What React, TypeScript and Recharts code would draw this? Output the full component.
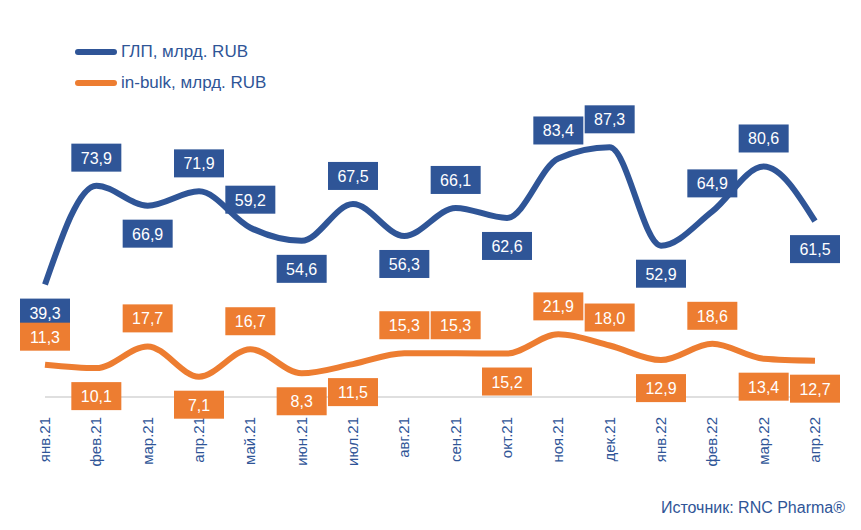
import React from "react";
import { LineChart, Line, XAxis, YAxis, LabelList } from "recharts";

const months = [
  "янв.21", "фев.21", "мар.21", "апр.21", "май.21", "июн.21", "июл.21", "авг.21",
  "сен.21", "окт.21", "ноя.21", "дек.21", "янв.22", "фев.22", "мар.22", "апр.22",
];
const glp = [39.3, 73.9, 66.9, 71.9, 59.2, 54.6, 67.5, 56.3, 66.1, 62.6, 83.4, 87.3, 52.9, 64.9, 80.6, 61.5];
const bulk = [11.3, 10.1, 17.7, 7.1, 16.7, 8.3, 11.5, 15.3, 15.3, 15.2, 21.9, 18.0, 12.9, 18.6, 13.4, 12.7];
// label placement: 1 = above the point, -1 = below
const glpPos = [-1, 1, -1, 1, 1, -1, 1, -1, 1, -1, 1, 1, -1, 1, 1, -1];
const bulkPos = [1, -1, 1, -1, 1, -1, -1, 1, 1, -1, 1, 1, -1, 1, -1, -1];

const BLUE = "#2F5597";
const ORANGE = "#ED7D31";
const FONT = "'Liberation Sans', Arial, sans-serif";

const data = months.map((m, i) => ({ month: m, glp: glp[i], bulk: bulk[i] }));

function boxLabel(color: string, pos: number[]) {
  return (props: any) => {
    const { x, y, value, index } = props;
    const cy = y - pos[index] * 28;
    return (
      <g>
        <rect x={x - 25} y={cy - 14} width={50} height={28} fill={color} />
        <text x={x} y={cy + 6} textAnchor="middle" fill="#fff" fontSize={16} fontFamily={FONT}>
          {value.toFixed(1).replace(".", ",")}
        </text>
      </g>
    );
  };
}

function MonthTick(props: any) {
  const { x, y, payload } = props;
  return (
    <text
      x={x + 5}
      y={y + 12}
      transform={`rotate(-90 ${x + 5} ${y + 12})`}
      textAnchor="end"
      fill={BLUE}
      fontSize={15}
      fontFamily={FONT}
    >
      {payload.value}
    </text>
  );
}

export default function App() {
  return (
    <div style={{ position: "absolute", left: 0, top: 0, width: 861, height: 530, background: "#fff", fontFamily: FONT }}>
      <LineChart width={861} height={530} data={data} margin={{ top: 111, right: 46, left: 45, bottom: 0 }}>
        <XAxis dataKey="month" height={133} tick={<MonthTick />} tickLine={false} axisLine={{ stroke: "#BFBFBF" }} interval={0} />
        <YAxis hide domain={[0, 100]} />
        <Line type="monotone" dataKey="glp" stroke={BLUE} strokeWidth={6} dot={false} isAnimationActive={false}>
          <LabelList dataKey="glp" content={boxLabel(BLUE, glpPos)} />
        </Line>
        <Line type="monotone" dataKey="bulk" stroke={ORANGE} strokeWidth={6} dot={false} isAnimationActive={false}>
          <LabelList dataKey="bulk" content={boxLabel(ORANGE, bulkPos)} />
        </Line>
      </LineChart>
      <div style={{ position: "absolute", left: 75, top: 36, color: BLUE, fontSize: 17 }}>
        {[["ГЛП, млрд. RUB", BLUE], ["in-bulk, млрд. RUB", ORANGE]].map(([t, c], i) => (
          <div key={i} style={{ display: "flex", alignItems: "center", height: 31 }}>
            <span style={{ display: "inline-block", width: 42, height: 6, borderRadius: 3, background: c, marginRight: 4 }} />
            {t}
          </div>
        ))}
      </div>
      <div style={{ position: "absolute", right: 16, top: 499, color: BLUE, fontSize: 16 }}>
        Источник: RNC Pharma®
      </div>
    </div>
  );
}
